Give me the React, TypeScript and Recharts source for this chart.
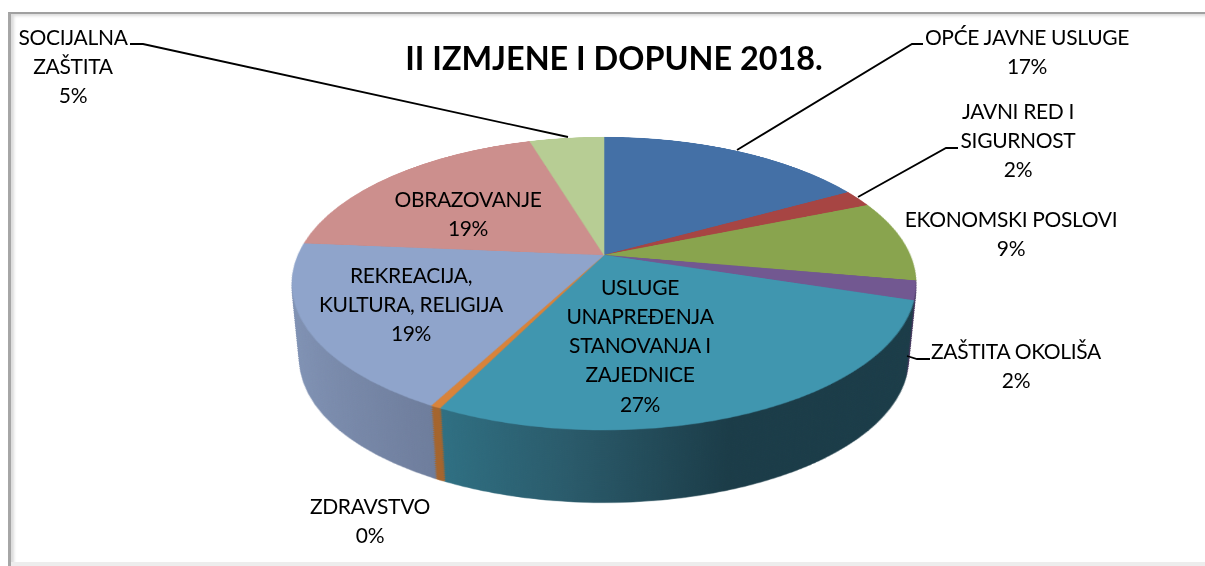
import { PieChart, Pie, Cell } from 'recharts'

const categories = [
  'OPĆE JAVNE USLUGE',
  'JAVNI RED I SIGURNOST',
  'EKONOMSKI POSLOVI',
  'ZAŠTITA OKOLIŠA',
  'USLUGE UNAPREĐENJA STANOVANJA I ZAJEDNICE',
  'ZDRAVSTVO',
  'REKREACIJA, KULTURA, RELIGIJA',
  'OBRAZOVANJE',
  'SOCIJALNA ZAŠTITA',
]
const shares = [16.9, 1.9, 9.0, 2.1, 27.4, 0.45, 18.6, 19.0, 4.65]
const topColors = ['#4470a6', '#a74543', '#89a44e', '#725891', '#4096af', '#d8833a', '#8fa4cb', '#cc8f8d', '#b7cd94']
const wallColors = ['#2a4a70', '#703030', '#5c6e34', '#46365e', 'url(#wallTeal)', '#a5652e', 'url(#wallBlue)', '#8a5f5e', '#7c8c62']

const tableData = categories.map((name, i) => ({ name, value: shares[i] }))
const total = shares.reduce((a, b) => a + b, 0)
const pct = (i: number) => `${Math.round((shares[i] / total) * 100)}%`

// label layout: lines of each category and where the block sits
const labels = [
  { i: 0, lines: ['OPĆE JAVNE USLUGE'], x: 1027, y: 36 },
  { i: 1, lines: ['JAVNI RED I', 'SIGURNOST'], x: 1018, y: 110 },
  { i: 2, lines: ['EKONOMSKI POSLOVI'], x: 1011, y: 218 },
  { i: 3, lines: ['ZAŠTITA OKOLIŠA'], x: 1016, y: 350 },
  { i: 4, lines: ['USLUGE', 'UNAPREĐENJA', 'STANOVANJA I', 'ZAJEDNICE'], x: 640, y: 286 },
  { i: 5, lines: ['ZDRAVSTVO'], x: 370, y: 505 },
  { i: 6, lines: ['REKREACIJA,', 'KULTURA, RELIGIJA'], x: 411, y: 274 },
  { i: 7, lines: ['OBRAZOVANJE'], x: 468, y: 198 },
  { i: 8, lines: ['SOCIJALNA', 'ZAŠTITA'], x: 73, y: 36 },
]
const leaders = [
  '130,44 143,44 568,137',
  '923,44 912,44 737,150',
  '958,148 946,148 858,197',
  '930,359 917,359 907,356',
]

const SIZE = 640
const RADIUS = 300
const CX = 604
const CY = 255
const DEPTH = 77
const SHRINK = 0.025
const STEPS = 38
// projective squash so the centre of the pie sits above the middle of the ellipse
const TILT = 'matrix3d(1.02,0,0,0, 0,0.47,0,-0.000648, 0,0,1,0, 0,0,0,1)'

function PieLayer({ colors, dy, scale }: { colors: string[]; dy: number; scale: number }) {
  return (
    <div
      style={{
        position: 'absolute',
        left: CX - SIZE / 2,
        top: CY - SIZE / 2,
        width: SIZE,
        height: SIZE,
        transformOrigin: '50% 50%',
        transform: `translate(0px, ${dy}px) scale(${scale}) ${TILT}`,
      }}
    >
      <PieChart width={SIZE} height={SIZE} margin={{ top: 0, right: 0, bottom: 0, left: 0 }}>
        <defs>
          <linearGradient id="wallTeal" gradientUnits="userSpaceOnUse" x1={190} y1={0} x2={420} y2={0}>
            <stop offset="0%" stopColor="#2f6f82" />
            <stop offset="45%" stopColor="#2a5a6a" />
            <stop offset="100%" stopColor="#1b3c48" />
          </linearGradient>
          <linearGradient id="wallBlue" gradientUnits="userSpaceOnUse" x1={20} y1={0} x2={180} y2={0}>
            <stop offset="0%" stopColor="#8294b6" />
            <stop offset="100%" stopColor="#6e7d9c" />
          </linearGradient>
        </defs>
        <Pie
          data={tableData}
          dataKey="value"
          nameKey="name"
          cx={SIZE / 2}
          cy={SIZE / 2}
          outerRadius={RADIUS}
          startAngle={90}
          endAngle={-270}
          isAnimationActive={false}
          labelLine={false}
          label={false}
        >
          {tableData.map((d, i) => (
            <Cell key={d.name} fill={colors[i]} stroke={colors[i]} strokeWidth={0.6} />
          ))}
        </Pie>
      </PieChart>
    </div>
  )
}

const textStyle = { fontFamily: 'Lato, Carlito, sans-serif', fontSize: 21, letterSpacing: -0.33, fill: '#000' }
const LINE = 29.3

export default function App() {
  const layers = Array.from({ length: STEPS }, (_, k) => STEPS - k)
  return (
    <div style={{ position: 'absolute', left: 0, top: 0, width: 1205, height: 566, overflow: 'hidden', background: '#fff' }}>
      <div
        style={{
          position: 'absolute',
          left: 8,
          top: 12,
          width: 1197,
          height: 554,
          boxSizing: 'border-box',
          borderLeft: '3px solid #a6a6a6',
          borderTop: '2px solid #a0a0a0',
          boxShadow: 'inset 3px 2px 3px rgba(0,0,0,0.14)',
        }}
      />
      <div style={{ position: 'absolute', left: 11, top: 562, width: 1194, height: 4, background: '#ededed' }} />

      {layers.map((k) => (
        <PieLayer key={k} colors={wallColors} dy={(DEPTH * k) / STEPS} scale={1 - (SHRINK * k) / STEPS} />
      ))}
      <PieLayer colors={topColors} dy={0} scale={1} />

      <svg width={1205} height={566} style={{ position: 'absolute', left: 0, top: 0 }}>
        {leaders.map((pts) => (
          <polyline key={pts} points={pts} fill="none" stroke="#000" strokeWidth={1.8} />
        ))}
        <text
          x={614}
          y={57}
          dominantBaseline="central"
          textAnchor="middle"
          style={{ fontFamily: 'Lato, Carlito, sans-serif', fontSize: 32.4, fontWeight: 700, fill: '#000' }}
        >
          II IZMJENE I DOPUNE 2018.
        </text>
        {labels.map((l) =>
          [...l.lines, pct(l.i)].map((line, n) => (
            <text
              key={`${l.i}-${n}`}
              x={l.x}
              y={l.y + n * LINE}
              textAnchor="middle"
              dominantBaseline="central"
              style={textStyle}
            >
              {line}
            </text>
          )),
        )}
      </svg>
    </div>
  )
}
